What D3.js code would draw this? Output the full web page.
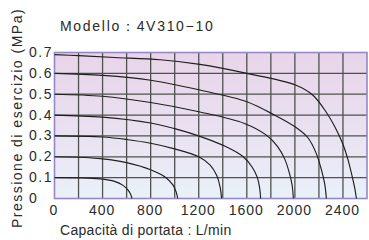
<!DOCTYPE html>
<html><head><meta charset="utf-8">
<script src="https://cdn.jsdelivr.net/npm/d3@7"></script>
<style>
html,body{margin:0;padding:0;background:#fff;}
svg{display:block;font-family:"Liberation Sans",Arial,sans-serif;}
</style></head>
<body><svg id="chart" width="369" height="240"></svg>
<script>
const title = "Modello：4V310−10";
const xTitle = "Capacità di portata : L/min";
const yTitle = "Pressione di esercizio (MPa)";
const xTicks = [0, 400, 800, 1200, 1600, 2000, 2400];
const yTicks = [0, 0.1, 0.2, 0.3, 0.4, 0.5, 0.6, 0.7];
const xGrid = [200,400,600,800,1000,1200,1400,1600,1800,2000,2200,2400];
const yGrid = [0.1,0.2,0.3,0.4,0.5,0.6];

// flow (L/min) vs pressure (MPa) for each supply pressure
const c01x = [0, 200, 380, 500, 570, 612, 635, 645];
const c01y = [0.1, 0.099, 0.094, 0.082, 0.063, 0.04, 0.018, 0];
const c02x = [0, 200, 400, 600, 800, 920, 985, 1012, 1025];
const c02y = [0.2, 0.198, 0.19, 0.172, 0.138, 0.103, 0.065, 0.032, 0];
const c03x = [0, 400, 600, 800, 1000, 1200, 1295, 1350, 1378, 1390];
const c03y = [0.3, 0.295, 0.283, 0.265, 0.238, 0.2, 0.16, 0.11, 0.055, 0];
const c04x = [0, 400, 800, 1000, 1210, 1420, 1570, 1645, 1688, 1707, 1715];
const c04y = [0.4, 0.39, 0.362, 0.335, 0.298, 0.25, 0.2, 0.15, 0.1, 0.05, 0];
const c05x = [0, 400, 800, 1210, 1580, 1760, 1855, 1915, 1955, 1978, 1987];
const c05y = [0.5, 0.49, 0.46, 0.415, 0.36, 0.305, 0.25, 0.19, 0.12, 0.06, 0];
const c06x = [0, 400, 800, 1210, 1600, 1830, 2010, 2110, 2175, 2220, 2248, 2262];
const c06y = [0.6, 0.59, 0.567, 0.52, 0.464, 0.4, 0.34, 0.29, 0.22, 0.14, 0.07, 0];
const c07x = [0, 200, 500, 880, 1210, 1600, 2000, 2150, 2265, 2345, 2400, 2440, 2475, 2498, 2512];
const c07y = [0.69, 0.685, 0.676, 0.665, 0.643, 0.6, 0.545, 0.495, 0.41, 0.33, 0.26, 0.19, 0.11, 0.05, 0];
const curvesX = [c01x, c02x, c03x, c04x, c05x, c06x, c07x];
const curvesY = [c01y, c02y, c03y, c04y, c05y, c06y, c07y];

const svg = d3.select("#chart");
const x = d3.scaleLinear().domain([0, 2600]).range([54.5, 367]);
const y = d3.scaleLinear().domain([0, 0.7]).range([198.5, 52.5]);

const defs = svg.append("defs");
const grad = defs.append("linearGradient").attr("id","bg").attr("x1",0).attr("y1",0).attr("x2",0).attr("y2",1);
grad.append("stop").attr("offset","0%").attr("stop-color","#e8d4e8");
grad.append("stop").attr("offset","50%").attr("stop-color","#e9e0f0");
grad.append("stop").attr("offset","100%").attr("stop-color","#eaf1f9");

svg.append("rect").attr("x", x(0)).attr("y", y(0.7))
  .attr("width", x(2600)-x(0)).attr("height", y(0)-y(0.7)).attr("fill","url(#bg)");

const g = svg.append("g");
g.selectAll(".vg").data(xGrid).join("line")
  .attr("x1", d=>x(d)).attr("x2", d=>x(d)).attr("y1", y(0.7)).attr("y2", y(0))
  .attr("stroke","#505050").attr("stroke-width",1.3);
g.selectAll(".hg").data(yGrid).join("line")
  .attr("y1", d=>y(d)).attr("y2", d=>y(d)).attr("x1", x(0)).attr("x2", x(2600))
  .attr("stroke","#505050").attr("stroke-width",1.3);

svg.append("rect").attr("x", x(0)).attr("y", y(0.7))
  .attr("width", x(2600)-x(0)).attr("height", y(0)-y(0.7))
  .attr("fill","none").attr("stroke","#9488c6").attr("stroke-width",1.6);

const line = d3.line().x(d=>x(d[0])).y(d=>y(d[1])).curve(d3.curveCatmullRom.alpha(0.5));
curvesX.forEach((cx,i)=>{
  const pts = cx.map((v,j)=>[v, curvesY[i][j]]);
  svg.append("path").attr("d", line(pts)).attr("fill","none")
    .attr("stroke","#1e1e1e").attr("stroke-width",1.15);
});

// axes tick labels via d3 axes
const xAxis = d3.axisBottom(x).tickValues(xTicks).tickSize(0).tickPadding(0).tickFormat(d3.format("d"));
const xa = svg.append("g").attr("transform","translate(-1,205.5)").call(xAxis);
xa.select(".domain").remove();
xa.selectAll("text").attr("font-size",14).attr("fill","#2a2a2a").attr("letter-spacing","1px")
  .attr("font-family","'Liberation Sans',Arial,sans-serif").attr("dy","0.71em");

const yAxis = d3.axisLeft(y).tickValues(yTicks).tickSize(0).tickPadding(0)
  .tickFormat(d=> d===0 ? "0" : d3.format(".1f")(d));
const ya = svg.append("g").attr("transform","translate(29,-1)").call(yAxis);
ya.select(".domain").remove();
ya.selectAll("text").attr("font-size",14).attr("fill","#2a2a2a").attr("letter-spacing","1.5px")
  .attr("text-anchor","start")
  .attr("font-family","'Liberation Sans',Arial,sans-serif").attr("dy","0.36em");

svg.append("text").attr("x", 60).attr("y", 31).attr("font-size",14)
  .attr("letter-spacing","1.7px").attr("fill","#2a2a2a").text(title);
svg.append("text").attr("x", 60).attr("y", 235).attr("font-size",14)
  .attr("letter-spacing","0.3px").attr("fill","#2a2a2a").text(xTitle);
svg.append("text").attr("transform","translate(22,118) rotate(-90)")
  .attr("text-anchor","middle").attr("font-size",14).attr("letter-spacing","1.5px")
  .attr("fill","#2a2a2a").text(yTitle);
</script></body></html>
